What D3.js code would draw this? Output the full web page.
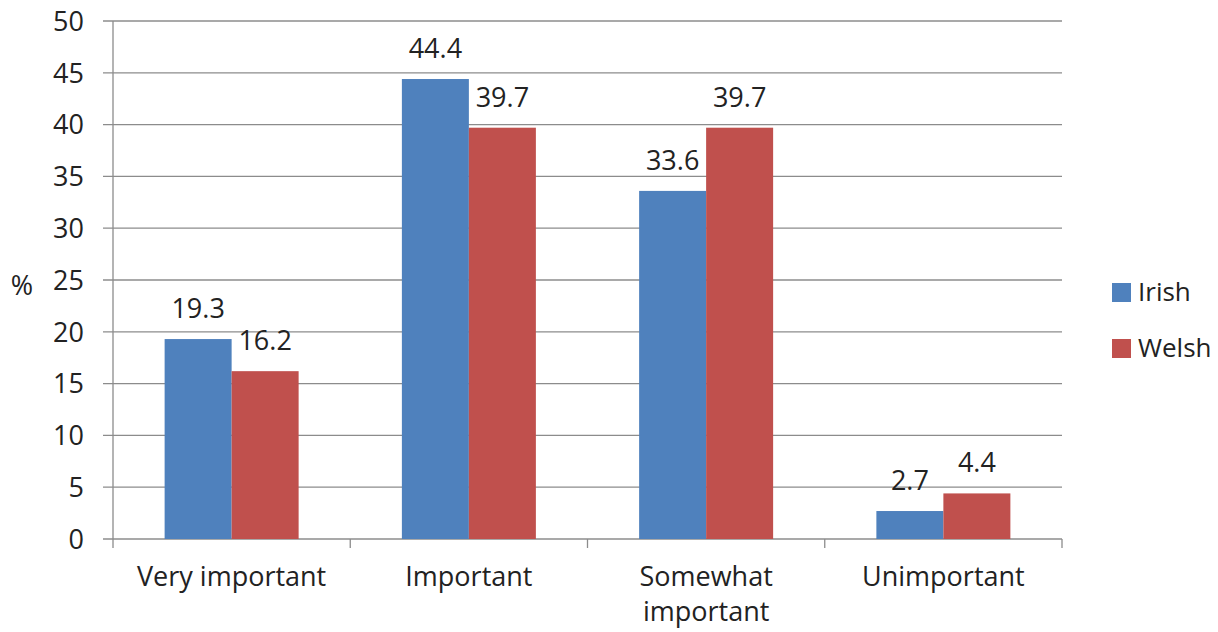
<!DOCTYPE html>
<html>
<head>
<meta charset="utf-8">
<script src="https://cdn.jsdelivr.net/npm/d3@7"></script>
<style>
  body { margin: 0; background: #fff; }
  text { font-family: "Open Sans", sans-serif; fill: #222; }
</style>
</head>
<body>
<div id="canvas"></div>
<script>
"use strict"

// data
let categories = ["Very important", "Important", "Somewhat important", "Unimportant"];
let seriesNames = ["Irish", "Welsh"];
let irish = [19.3, 44.4, 33.6, 2.7];
let welsh = [16.2, 39.7, 39.7, 4.4];
let yTicks = [0, 5, 10, 15, 20, 25, 30, 35, 40, 45, 50];

let colours = ["#4F81BD", "#C0504D"];

let drawing = d3.select("#canvas")
    .append("svg")
    .attr("width", 1218)
    .attr("height", 632);

let plotLeft = 113, plotRight = 1062, plotTop = 21, plotBottom = 539;

let x = d3.scaleBand()
    .domain(categories)
    .range([plotLeft, plotRight]);

let inner = d3.scaleBand()
    .domain(seriesNames)
    .range([0, 134]);

let y = d3.scaleLinear()
    .domain([0, 50])
    .range([plotBottom, plotTop]);

// gridlines
drawing.append("g")
    .selectAll("line")
    .data(yTicks)
    .join("line")
    .attr("x1", plotLeft - 10)
    .attr("x2", plotRight)
    .attr("y1", d => y(d))
    .attr("y2", d => y(d))
    .attr("stroke", "#8c8c8c")
    .attr("stroke-width", 1.3);

// y axis line
drawing.append("line")
    .attr("x1", plotLeft).attr("x2", plotLeft)
    .attr("y1", plotTop).attr("y2", plotBottom)
    .attr("stroke", "#8c8c8c")
    .attr("stroke-width", 1.3);

// x tick marks at category boundaries
let boundaries = categories.map(c => x(c)).concat([plotRight]);
drawing.append("g")
    .selectAll("line")
    .data(boundaries)
    .join("line")
    .attr("x1", d => d).attr("x2", d => d)
    .attr("y1", plotBottom).attr("y2", plotBottom + 9)
    .attr("stroke", "#8c8c8c")
    .attr("stroke-width", 1.3);

// y tick labels
drawing.append("g")
    .selectAll("text")
    .data(yTicks)
    .join("text")
    .attr("x", plotLeft - 29)
    .attr("y", d => y(d))
    .attr("dy", "0.36em")
    .attr("text-anchor", "end")
    .attr("font-size", 27)
    .text(d => d);

drawing.append("text")
    .attr("x", 22)
    .attr("y", 285)
    .attr("dy", "0.36em")
    .attr("text-anchor", "middle")
    .attr("font-size", 27)
    .text("%");

// bars
let series = [irish, welsh];
series.forEach((values, s) => {
    let g = drawing.append("g");
    g.selectAll("rect")
        .data(values)
        .join("rect")
        .attr("x", (d, i) => x(categories[i]) + x.bandwidth() / 2 - 67 + inner(seriesNames[s]))
        .attr("width", inner.bandwidth())
        .attr("y", d => y(d))
        .attr("height", d => plotBottom - y(d))
        .attr("fill", colours[s]);

    g.selectAll("text")
        .data(values)
        .join("text")
        .attr("x", (d, i) => x(categories[i]) + x.bandwidth() / 2 - 67 + inner(seriesNames[s]) + inner.bandwidth() / 2)
        .attr("y", d => y(d) - 21)
        .attr("text-anchor", "middle")
        .attr("font-size", 27)
        .text(d => d.toFixed(1));
});

// category labels (wrap long ones)
categories.forEach(c => {
    let lines = c === "Somewhat important" ? ["Somewhat", "important"] : [c];
    let t = drawing.append("text")
        .attr("text-anchor", "middle")
        .attr("font-size", 27);
    lines.forEach((ln, k) => {
        t.append("tspan")
            .attr("x", x(c) + x.bandwidth() / 2)
            .attr("y", 586 + k * 35)
            .text(ln);
    });
});

// legend
seriesNames.forEach((name, s) => {
    let ly = 283 + s * 56;
    drawing.append("rect")
        .attr("x", 1112).attr("y", ly)
        .attr("width", 19).attr("height", 19)
        .attr("fill", colours[s]);
    drawing.append("text")
        .attr("x", 1138).attr("y", ly + 18)
        .attr("font-size", 26)
        .text(name);
});
</script>
</body>
</html>
